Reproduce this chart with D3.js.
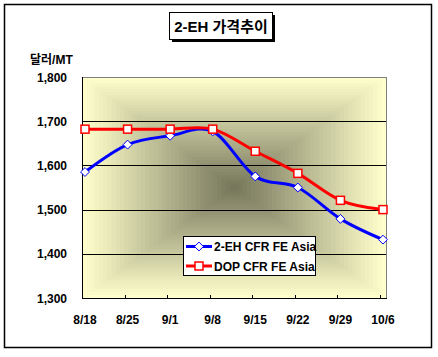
<!DOCTYPE html>
<html>
<head>
<meta charset="utf-8">
<script src="https://cdn.jsdelivr.net/npm/d3@7"></script>
<style>
  body { margin: 0; background: #fff; }
  text { font-family: "Liberation Sans", Arial, "Noto Sans CJK KR", sans-serif; font-weight: bold; }
</style>
</head>
<body>
<div id="chart"></div>
<script>
// Chart data
var dates = ["8/18", "8/25", "9/1", "9/8", "9/15", "9/22", "9/29", "10/6"];
var ehValues = [1585, 1647, 1667, 1677, 1575, 1550, 1479, 1432];
var dopValues = [1682, 1682, 1682, 1682, 1632, 1582, 1521, 1500];
var yTicks = [1300, 1400, 1500, 1600, 1700, 1800];
var seriesNames = ["2-EH CFR FE Asia", "DOP CFR FE Asia"];

var width = 438;
var height = 357;

// plot area
var plotLeft = 82, plotRight = 386, plotTop = 77, plotBottom = 298;

var svg = d3.select("#chart")
    .append("svg")
    .attr("width", width)
    .attr("height", height);

// outer frame
svg.append("rect")
    .attr("x", 4.5).attr("y", 4.5)
    .attr("width", 427).attr("height", 343)
    .attr("fill", "#fff")
    .attr("stroke", "#000")
    .attr("stroke-width", 1.5);

// title with shadow
svg.append("rect")
    .attr("x", 172).attr("y", 15)
    .attr("width", 103).attr("height", 27)
    .attr("fill", "#000");
svg.append("rect")
    .attr("x", 169.5).attr("y", 12.5)
    .attr("width", 103).attr("height", 27)
    .attr("fill", "#fff")
    .attr("stroke", "#000");
svg.append("text")
    .attr("x", 221).attr("y", 31.5)
    .attr("text-anchor", "middle")
    .style("font-size", "15px")
    .text("2-EH 가격추이");

// y axis title
svg.append("text")
    .attr("x", 30).attr("y", 64)
    .style("font-size", "12px")
    .text("달러/MT");

var x = d3.scalePoint()
    .domain(dates)
    .range([85, 383]);

var y = d3.scaleLinear()
    .domain([1300, 1800])
    .range([plotBottom, plotTop]);

// rectangular "from center" gradient, drawn as bands
var bands = 36;
var shade = d3.interpolateRgb("#ffffcc", "#77775c");
var cx = (plotLeft + plotRight) / 2, cy = (plotTop + plotBottom) / 2;
var pw = plotRight - plotLeft, ph = plotBottom - plotTop;
svg.append("g")
    .selectAll("rect")
    .data(d3.range(bands))
    .enter()
    .append("rect")
    .attr("x", function(i) { return cx - pw / 2 * (1 - i / bands); })
    .attr("y", function(i) { return cy - ph / 2 * (1 - i / bands); })
    .attr("width", function(i) { return pw * (1 - i / bands); })
    .attr("height", function(i) { return ph * (1 - i / bands); })
    .attr("fill", function(i) { return shade(i / (bands - 1)); });

// plot border (top/right gray)
svg.append("rect")
    .attr("x", plotLeft + 0.5).attr("y", plotTop + 0.5)
    .attr("width", pw).attr("height", ph)
    .attr("fill", "none")
    .attr("stroke", "#808080");

// grid lines
svg.append("g")
    .selectAll("line")
    .data(yTicks.slice(1, -1))
    .enter()
    .append("line")
    .attr("x1", plotLeft).attr("x2", plotRight)
    .attr("y1", function(d) { return Math.round(y(d)) + 0.5; })
    .attr("y2", function(d) { return Math.round(y(d)) + 0.5; })
    .attr("stroke", "#000");

// axes lines
svg.append("line")
    .attr("x1", plotLeft + 0.5).attr("x2", plotLeft + 0.5)
    .attr("y1", plotTop).attr("y2", plotBottom + 1)
    .attr("stroke", "#000");
svg.append("line")
    .attr("x1", plotLeft).attr("x2", plotRight + 1)
    .attr("y1", plotBottom + 0.5).attr("y2", plotBottom + 0.5)
    .attr("stroke", "#000");

// x ticks (inside)
svg.append("g")
    .selectAll("line")
    .data(dates.slice(1))
    .enter()
    .append("line")
    .attr("x1", function(d) { return Math.round(x(d)) - 2.5; })
    .attr("x2", function(d) { return Math.round(x(d)) - 2.5; })
    .attr("y1", plotBottom - 3).attr("y2", plotBottom)
    .attr("stroke", "#000");

// y labels
svg.append("g")
    .selectAll("text")
    .data(yTicks)
    .enter()
    .append("text")
    .attr("x", 67)
    .attr("y", function(d) { return y(d) + 4.5; })
    .attr("text-anchor", "end")
    .style("font-size", "12px")
    .text(d3.format(","));

// x labels
svg.append("g")
    .selectAll("text")
    .data(dates)
    .enter()
    .append("text")
    .attr("x", function(d) { return x(d); })
    .attr("y", 324)
    .attr("text-anchor", "middle")
    .style("font-size", "12px")
    .text(function(d) { return d; });

var line = d3.line()
    .x(function(d, i) { return x(dates[i]); })
    .y(function(d) { return y(d); })
    .curve(d3.curveCardinal.tension(0));

var diamond = d3.symbol().type(d3.symbolDiamond2).size(50);

function drawSeries(values, color, marker) {
    var g = svg.append("g");
    g.append("path")
        .datum(values)
        .attr("d", line)
        .attr("fill", "none")
        .attr("stroke", color)
        .attr("stroke-width", 3);
    if (marker == "diamond") {
        g.selectAll("path.m")
            .data(values)
            .enter()
            .append("path")
            .attr("class", "m")
            .attr("transform", function(d, i) { return "translate(" + x(dates[i]) + "," + y(d) + ")"; })
            .attr("d", diamond)
            .attr("fill", "#fff")
            .attr("stroke", color)
            .attr("stroke-width", 1);
    } else {
        g.selectAll("rect.m")
            .data(values)
            .enter()
            .append("rect")
            .attr("class", "m")
            .attr("x", function(d, i) { return x(dates[i]) - 4; })
            .attr("y", function(d) { return y(d) - 4; })
            .attr("width", 8).attr("height", 8)
            .attr("fill", "#fff")
            .attr("stroke", color)
            .attr("stroke-width", 1.5);
    }
}

drawSeries(ehValues, "#0000ff", "diamond");
drawSeries(dopValues, "#ff0000", "square");

// legend
var legend = svg.append("g");
legend.append("rect")
    .attr("x", 183.5).attr("y", 236.5)
    .attr("width", 132).attr("height", 39)
    .attr("fill", "#fff")
    .attr("stroke", "#000");

var rows = [246.5, 266];
var colors = ["#0000ff", "#ff0000"];
rows.forEach(function(ry, i) {
    legend.append("line")
        .attr("x1", 186).attr("x2", 212)
        .attr("y1", ry).attr("y2", ry)
        .attr("stroke", colors[i])
        .attr("stroke-width", 3);
    if (i == 0) {
        legend.append("path")
            .attr("transform", "translate(199," + ry + ")")
            .attr("d", diamond)
            .attr("fill", "#fff")
            .attr("stroke", colors[i]);
    } else {
        legend.append("rect")
            .attr("x", 195).attr("y", ry - 4)
            .attr("width", 8).attr("height", 8)
            .attr("fill", "#fff")
            .attr("stroke", colors[i])
            .attr("stroke-width", 1.5);
    }
    legend.append("text")
        .attr("x", 214)
        .attr("y", ry + 4.5)
        .style("font-size", "12px")
        .text(seriesNames[i]);
});
</script>
</body>
</html>
